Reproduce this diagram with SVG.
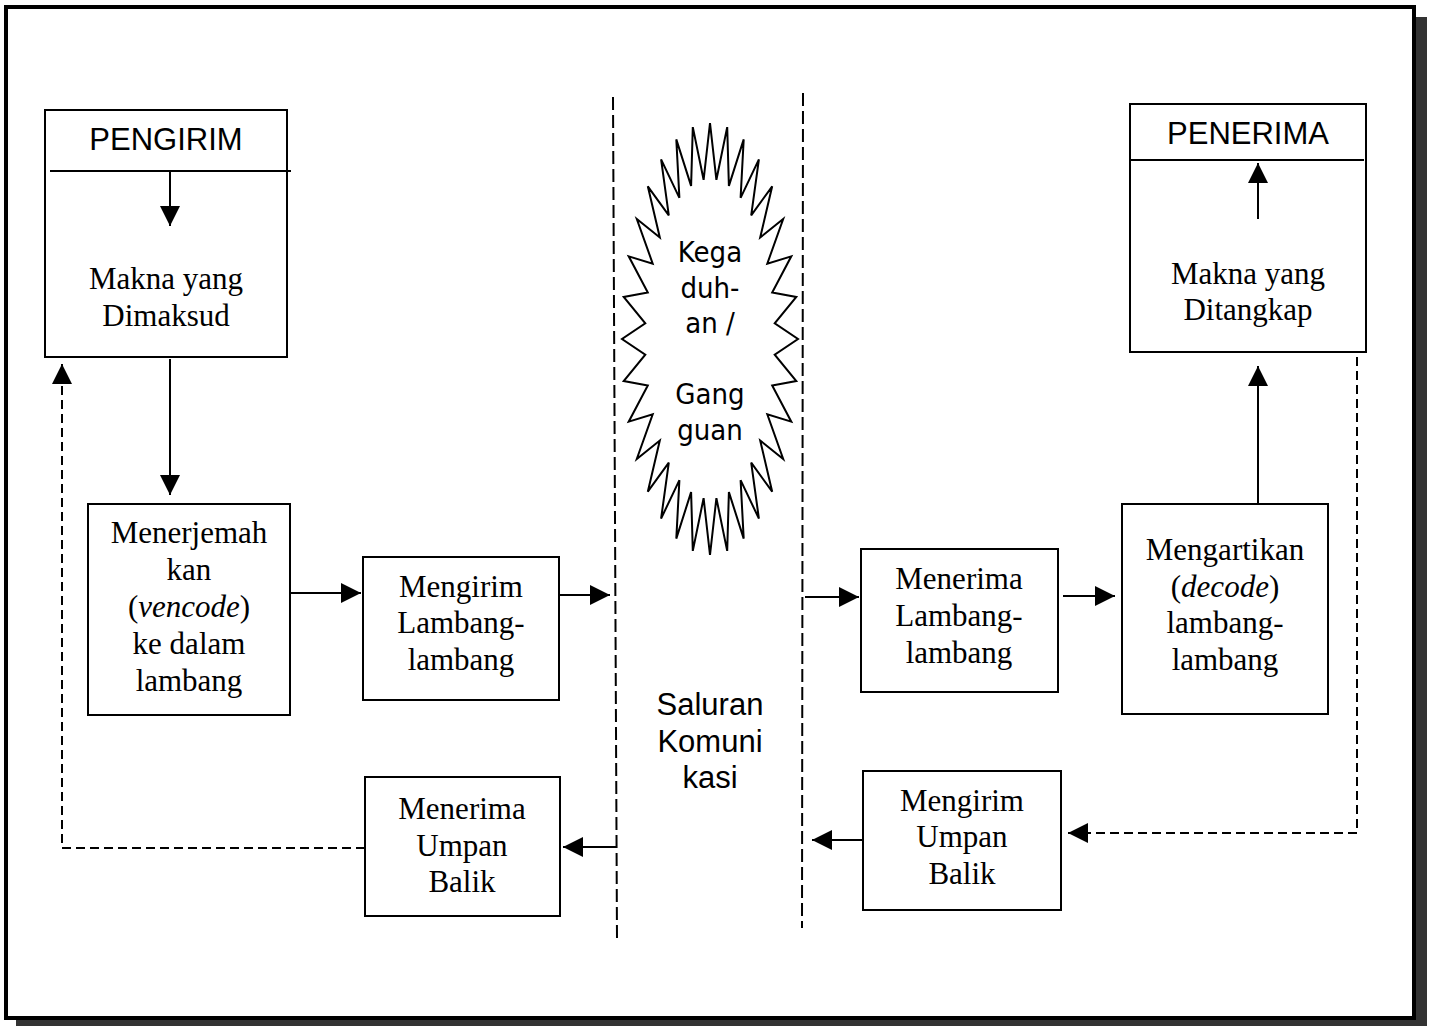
<svg xmlns="http://www.w3.org/2000/svg" width="1434" height="1026" viewBox="0 0 1434 1026">
<style>
.box{fill:#fff;stroke:#000;stroke-width:2}
.ln{fill:none;stroke:#000;stroke-width:2}
.dash{fill:none;stroke:#000;stroke-width:2;stroke-dasharray:9 5}
.chan{fill:none;stroke:#000;stroke-width:2;stroke-dasharray:13 5}
.serif{font-family:"Liberation Serif","Times New Roman",serif;font-size:31px;text-anchor:middle;fill:#000}
.sans{font-family:"Liberation Sans",Arial,sans-serif;font-size:31px;text-anchor:middle;fill:#000}
.tah{font-family:"DejaVu Sans Condensed","DejaVu Sans",sans-serif;font-stretch:condensed;font-size:29px;text-anchor:middle;fill:#000}
</style>
<defs>
<marker id="ah" viewBox="0 0 20 20" refX="20" refY="10" markerWidth="20" markerHeight="20" markerUnits="userSpaceOnUse" orient="auto">
<path d="M0,0 L20,10 L0,20 z" fill="#000"/>
</marker>
</defs>
<rect x="16" y="17" width="1411" height="1009" fill="#333"/>
<rect x="6" y="7" width="1408" height="1011" fill="#fff" stroke="#000" stroke-width="4"/>

<g id="channel">
<line class="chan" x1="613" y1="97" x2="617" y2="940"/>
<line class="chan" x1="803" y1="93" x2="802" y2="928"/>
<text class="sans" x="710" y="715">Saluran</text>
<text class="sans" x="710" y="752">Komuni</text>
<text class="sans" x="710" y="788">kasi</text>
</g>

<g id="gangguan">
<polygon class="ln" stroke-linejoin="miter" points="710,123 716.4,179.8 727.2,127.1 728.9,185.9 743.7,139.4 740.6,197.9 758.9,159.4 751.2,215.3 772.2,186.3 760.2,237.5 783.2,219 767.3,263.6 791.3,256.3 772.2,292.6 796.3,296.9 774.7,323.3 798,339 774.7,354.7 796.3,381.1 772.2,385.4 791.3,421.7 767.3,414.4 783.2,459 760.2,440.5 772.2,491.7 751.2,462.7 758.9,518.6 740.6,480.1 743.7,538.6 728.9,492.1 727.2,550.9 716.4,498.2 710,555 703.6,498.2 692.8,550.9 691.1,492.1 676.3,538.6 679.4,480.1 661.1,518.6 668.8,462.7 647.8,491.7 659.8,440.5 636.8,459 652.7,414.4 628.7,421.7 647.8,385.4 623.7,381.1 645.3,354.7 622,339 645.3,323.3 623.7,296.9 647.8,292.6 628.7,256.3 652.7,263.6 636.8,219 659.8,237.5 647.8,186.3 668.8,215.3 661.1,159.4 679.4,197.9 676.3,139.4 691.1,185.9 692.8,127.1 703.6,179.8"/>
<text class="tah" x="710" y="262">Kega</text>
<text class="tah" x="710" y="298">duh-</text>
<text class="tah" x="710" y="333">an /</text>
<text class="tah" x="710" y="404">Gang</text>
<text class="tah" x="710" y="440">guan</text>
</g>

<g id="pengirim">
<rect class="box" x="45" y="110" width="242" height="247"/>
<line class="ln" x1="50" y1="171" x2="291" y2="171"/>
<line class="ln" x1="170" y1="171" x2="170" y2="226" marker-end="url(#ah)"/>
<text class="sans" x="166" y="150">PENGIRIM</text>
<text class="serif" x="166" y="289">Makna yang</text>
<text class="serif" x="166" y="326">Dimaksud</text>
</g>

<g id="menerjemahkan">
<rect class="box" x="88" y="504" width="202" height="211"/>
<text class="serif" x="189" y="543">Menerjemah</text>
<text class="serif" x="189" y="580">kan</text>
<text class="serif" x="189" y="617">(<tspan font-style="italic">vencode</tspan>)</text>
<text class="serif" x="189" y="654">ke dalam</text>
<text class="serif" x="189" y="691">lambang</text>
</g>

<g id="mengirim-lambang">
<rect class="box" x="363" y="557" width="196" height="143"/>
<text class="serif" x="461" y="597">Mengirim</text>
<text class="serif" x="461" y="633">Lambang-</text>
<text class="serif" x="461" y="670">lambang</text>
</g>

<g id="menerima-umpan">
<rect class="box" x="365" y="777" width="195" height="139"/>
<text class="serif" x="462" y="819">Menerima</text>
<text class="serif" x="462" y="856">Umpan</text>
<text class="serif" x="462" y="892">Balik</text>
</g>

<g id="menerima-lambang">
<rect class="box" x="861" y="549" width="197" height="143"/>
<text class="serif" x="959" y="589">Menerima</text>
<text class="serif" x="959" y="626">Lambang-</text>
<text class="serif" x="959" y="663">lambang</text>
</g>

<g id="mengartikan">
<rect class="box" x="1122" y="504" width="206" height="210"/>
<text class="serif" x="1225" y="560">Mengartikan</text>
<text class="serif" x="1225" y="597">(<tspan font-style="italic">decode</tspan>)</text>
<text class="serif" x="1225" y="633">lambang-</text>
<text class="serif" x="1225" y="670">lambang</text>
</g>

<g id="penerima">
<rect class="box" x="1130" y="104" width="236" height="248"/>
<line class="ln" x1="1130" y1="160" x2="1364" y2="160"/>
<line class="ln" x1="1258" y1="219" x2="1258" y2="163" marker-end="url(#ah)"/>
<text class="sans" x="1248" y="144">PENERIMA</text>
<text class="serif" x="1248" y="284">Makna yang</text>
<text class="serif" x="1248" y="320">Ditangkap</text>
</g>

<g id="mengirim-umpan">
<rect class="box" x="863" y="771" width="198" height="139"/>
<text class="serif" x="962" y="811">Mengirim</text>
<text class="serif" x="962" y="847">Umpan</text>
<text class="serif" x="962" y="884">Balik</text>
</g>

<g id="connectors">
<line class="ln" x1="170" y1="359" x2="170" y2="495" marker-end="url(#ah)"/>
<line class="ln" x1="290" y1="593" x2="361" y2="593" marker-end="url(#ah)"/>
<line class="ln" x1="559" y1="595" x2="610" y2="595" marker-end="url(#ah)"/>
<line class="ln" x1="805" y1="597" x2="859" y2="597" marker-end="url(#ah)"/>
<line class="ln" x1="1063" y1="596" x2="1115" y2="596" marker-end="url(#ah)"/>
<line class="ln" x1="1258" y1="504" x2="1258" y2="366" marker-end="url(#ah)"/>
<line class="ln" x1="617" y1="847" x2="563" y2="847" marker-end="url(#ah)"/>
<line class="ln" x1="863" y1="840" x2="812" y2="840" marker-end="url(#ah)"/>
<polyline class="dash" points="365,848 62,848 62,364" marker-end="url(#ah)"/>
<polyline class="dash" points="1357,357 1357,833 1068,833" marker-end="url(#ah)"/>
</g>
</svg>
